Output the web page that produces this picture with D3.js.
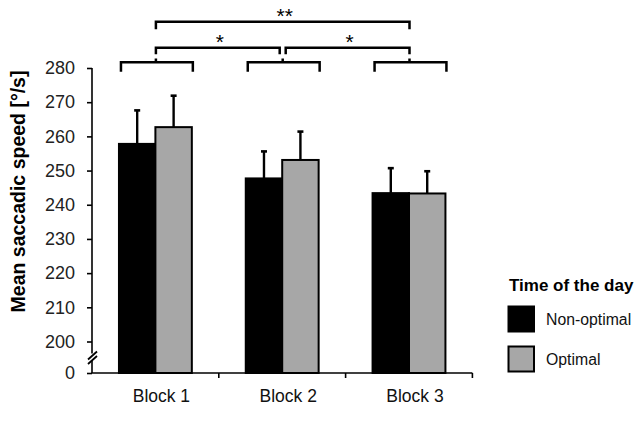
<!DOCTYPE html>
<html>
<head>
<meta charset="utf-8">
<script src="https://cdn.jsdelivr.net/npm/d3@7"></script>
<style>
html,body{margin:0;padding:0;background:#fff;}
svg{display:block;font-family:"Liberation Sans",Arial,sans-serif;}
</style>
</head>
<body>
<svg id="chart" width="644" height="422"></svg>
<script>
// ---- data ----
const blocks = ["Block 1", "Block 2", "Block 3"];
const seriesNames = ["Non-optimal", "Optimal"];
const nonOptimalMeans = [257.8, 247.7, 243.4];
const optimalMeans = [262.7, 253.1, 243.3];
const nonOptimalErrTop = [267.6, 255.6, 250.7];
const optimalErrTop = [271.9, 261.4, 249.8];
const yTicks = [0, 200, 210, 220, 230, 240, 250, 260, 270, 280];
const comparisons = [
  {from: "Block 1", to: "Block 2", label: "*"},
  {from: "Block 2", to: "Block 3", label: "*"},
  {from: "Block 1", to: "Block 3", label: "**"}
];
const yTitle = "Mean saccadic speed [°/s]";
const legendTitle = "Time of the day";

// ---- layout ----
const svg = d3.select("#chart");
const colors = {"Non-optimal": "#000000", "Optimal": "#a7a7a7"};

const x = d3.scaleBand().domain(blocks).range([92, 472.4]).paddingInner(0).paddingOuter(0);
const x1 = d3.scaleBand().domain(seriesNames).range([0, x.bandwidth()]).paddingInner(0).paddingOuter(0.74);
const y = d3.scaleLinear().domain([0, 200, 280]).range([373, 341.5, 68]);

const rows = [];
blocks.forEach((b, i) => {
  rows.push({block: b, series: "Non-optimal", mean: nonOptimalMeans[i], err: nonOptimalErrTop[i]});
  rows.push({block: b, series: "Optimal", mean: optimalMeans[i], err: optimalErrTop[i]});
});

// bars
svg.append("g").selectAll("rect").data(rows).join("rect")
  .attr("x", d => x(d.block) + x1(d.series))
  .attr("y", d => y(d.mean))
  .attr("width", x1.bandwidth())
  .attr("height", d => y(0) - y(d.mean))
  .attr("fill", d => colors[d.series])
  .attr("stroke", "#000").attr("stroke-width", 2);

// error bars
const eg = svg.append("g").attr("stroke", "#000").attr("stroke-width", 2.4);
rows.forEach(d => {
  const cx = x(d.block) + x1(d.series) + x1.bandwidth() / 2;
  eg.append("line").attr("x1", cx).attr("x2", cx).attr("y1", y(d.mean)).attr("y2", y(d.err));
  eg.append("line").attr("x1", cx - 3).attr("x2", cx + 3).attr("y1", y(d.err)).attr("y2", y(d.err)).attr("stroke-width", 2.6);
});

// y axis
const yAxis = d3.axisLeft(y).tickValues(yTicks).tickSize(5).tickPadding(12).tickFormat(d3.format("d"));
const ya = svg.append("g").attr("transform", "translate(92,0)").call(yAxis);
ya.select(".domain").remove();
ya.selectAll(".tick line").attr("stroke", "#000").attr("stroke-width", 1.6);
ya.selectAll(".tick text").attr("font-size", 18).attr("fill", "#222").attr("font-family", "Liberation Sans, Arial, sans-serif");
// axis line with break
const al = svg.append("g").attr("stroke", "#000").attr("stroke-width", 1.6);
al.append("line").attr("x1", 92).attr("x2", 92).attr("y1", y(280)).attr("y2", 353.5);
al.append("line").attr("x1", 92).attr("x2", 92).attr("y1", 360).attr("y2", y(0));
al.append("line").attr("x1", 88).attr("x2", 97).attr("y1", 359.5).attr("y2", 351.5).attr("stroke-width", 1.8);
al.append("line").attr("x1", 88).attr("x2", 97).attr("y1", 364).attr("y2", 356).attr("stroke-width", 1.8);

// x axis
svg.append("line").attr("x1", 91.5).attr("x2", 472.4).attr("y1", y(0)).attr("y2", y(0))
  .attr("stroke", "#000").attr("stroke-width", 1.6);
const xTickPos = blocks.map(b => x(b) + x.bandwidth());
svg.append("g").selectAll("line").data(xTickPos).join("line")
  .attr("x1", d => d).attr("x2", d => d).attr("y1", y(0)).attr("y2", y(0) + 5)
  .attr("stroke", "#000").attr("stroke-width", 1.6);
svg.append("g").selectAll("text").data(blocks).join("text")
  .attr("x", d => x(d) + x.bandwidth() / 2 + 6)
  .attr("y", 402)
  .attr("text-anchor", "middle")
  .attr("font-size", 17.5).attr("fill", "#111")
  .text(d => d);

// y title
svg.append("text")
  .attr("transform", "translate(25,191.5) rotate(-90)")
  .attr("text-anchor", "middle")
  .attr("font-size", 19.5).attr("font-weight", "bold").attr("fill", "#000")
  .text(yTitle);

// significance brackets
const groupStart = b => x(b) + x1(seriesNames[0]);
const groupEnd = b => x(b) + x1(seriesNames[1]) + x1.bandwidth();
const groupCenter = b => (groupStart(b) + groupEnd(b)) / 2;
const bg = svg.append("g").attr("stroke", "#000").attr("stroke-width", 2.5).attr("fill", "none");
blocks.forEach(b => {
  const l = groupStart(b) + 2, r = groupEnd(b) + 1, c = groupCenter(b) + 0.5;
  bg.append("path").attr("d", `M${l},71.7V62.3H${r}V71.7`);
  bg.append("line").attr("x1", c).attr("x2", c).attr("y1", 62.3).attr("y2", 58.5);
});
comparisons.forEach(cmp => {
  const span = blocks.indexOf(cmp.to) - blocks.indexOf(cmp.from);
  let l = groupCenter(cmp.from) + 0.5, r = groupCenter(cmp.to) + 0.5;
  let yl, yf, ty;
  if (span === 1) {
    if (blocks.indexOf(cmp.from) === 1) l += 3; else r -= 3;
    yl = 47.7; yf = 54.3; ty = 48.5;
  } else {
    yl = 21.7; yf = 29.3; ty = 22.5;
  }
  bg.append("path").attr("d", `M${l},${yf}V${yl}H${r}V${yf}`);
  svg.append("text").attr("x", (l + r) / 2 + 2).attr("y", ty)
    .attr("text-anchor", "middle").attr("font-size", 21).attr("fill", "#000")
    .text(cmp.label);
});

// legend
const lg = svg.append("g");
lg.append("text").attr("x", 509).attr("y", 290.7).attr("font-size", 17).attr("font-weight", "bold").attr("fill", "#000").text(legendTitle);
seriesNames.forEach((s, i) => {
  lg.append("rect").attr("x", 508.5).attr("y", 306.5 + i * 40).attr("width", 25.5).attr("height", 25)
    .attr("fill", colors[s]).attr("stroke", "#000").attr("stroke-width", 2);
  lg.append("text").attr("x", 546).attr("y", 325 + i * 40).attr("font-size", 15.8).attr("fill", "#111").text(s);
});
</script>
</body>
</html>
